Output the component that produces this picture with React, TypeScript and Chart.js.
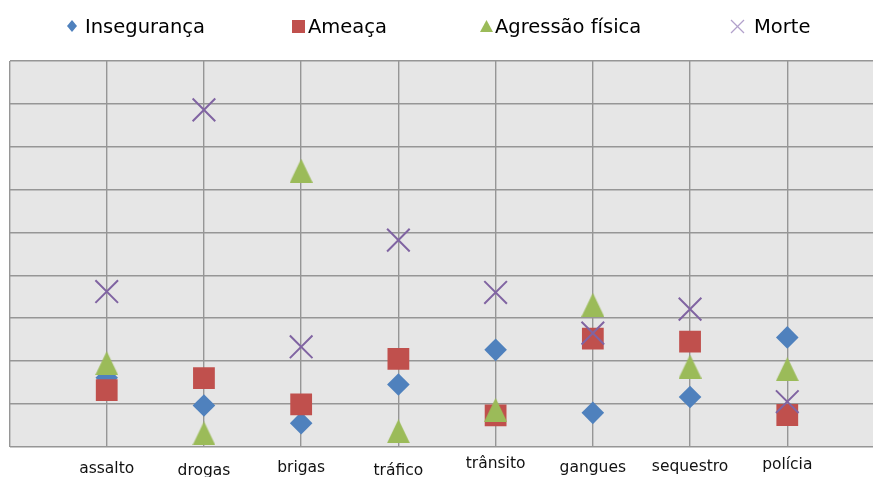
import React, { useEffect, useRef } from "react";
import { Chart, registerables } from "chart.js";

Chart.register(...registerables);

// ---- data ----
const categories = ["assalto", "drogas", "brigas", "tráfico", "trânsito", "gangues", "sequestro", "polícia"];
// vertical level (in axis units) at which each category label sits, as in the original
const labelLevels = [-0.62, -0.66, -0.59, -0.66, -0.5, -0.58, -0.57, -0.51];
const seriesNames = ["Insegurança", "Ameaça", "Agressão física", "Morte"];
const inseguranca = [1.61, 0.96, 0.55, 1.45, 2.26, 0.79, 1.16, 2.55];
const ameaca = [1.32, 1.6, 0.99, 2.05, 0.73, 2.52, 2.45, 0.74];
const agressao = [1.95, 0.31, 6.44, 0.36, 0.86, 3.31, 1.87, 1.81];
const morte = [3.62, 7.86, 2.33, 4.82, 3.6, 2.65, 3.21, 1.05];
const yMin = 0;
const yMax = 9;
const xMin = 0;
const xMax = 9;

const colors = ["#4F81BD", "#C0504D", "#9BBB59", "#8064A2"];
const FONT = '"DejaVu Sans", "Liberation Sans", Arial, sans-serif';

const CANVAS_W = 900;
const CANVAS_H = 477;

function toPoints(values: number[]) {
  return values.map((v, i) => ({ x: i + 1, y: v }));
}

function makeTriangle(w: number, h: number, color: string) {
  const c = document.createElement("canvas");
  c.width = w;
  c.height = h;
  const ctx = c.getContext("2d")!;
  ctx.fillStyle = color;
  ctx.beginPath();
  ctx.moveTo(w / 2, 0);
  ctx.lineTo(w, h);
  ctx.lineTo(0, h);
  ctx.closePath();
  ctx.fill();
  return c;
}

const plotBg = {
  id: "plotBg",
  beforeDraw(chart: any) {
    const { ctx, chartArea } = chart;
    const { left, top, right, bottom } = chartArea;
    ctx.save();
    ctx.fillStyle = "#E6E6E6";
    ctx.fillRect(left, top, right - left, bottom - top);
    ctx.restore();
  },
};

const catLabels = {
  id: "catLabels",
  afterDraw(chart: any) {
    const { ctx } = chart;
    const xs = chart.scales.x;
    const ys = chart.scales.y;
    ctx.save();
    ctx.font = `15.5px ${FONT}`;
    ctx.fillStyle = "#111";
    ctx.textAlign = "center";
    ctx.textBaseline = "alphabetic";
    categories.forEach((c, i) => {
      ctx.fillText(c, xs.getPixelForValue(i + 1), ys.getPixelForValue(labelLevels[i]));
    });
    ctx.restore();
  },
};

function LegendMarker({ kind, color }: { kind: number; color: string }) {
  if (kind === 0)
    return (
      <svg width={10} height={12} style={{ display: "block" }}>
        <polygon points="5,0 10,6 5,12 0,6" fill={color} />
      </svg>
    );
  if (kind === 1)
    return (
      <svg width={13} height={13} style={{ display: "block" }}>
        <rect x={0} y={0} width={13} height={13} fill={color} />
      </svg>
    );
  if (kind === 2)
    return (
      <svg width={13} height={12} style={{ display: "block" }}>
        <polygon points="6.5,0 13,12 0,12" fill={color} />
      </svg>
    );
  return (
    <svg width={15} height={15} style={{ display: "block" }}>
      <line x1={1} y1={1} x2={14} y2={14} stroke="#B2A1CB" strokeWidth={1.3} />
      <line x1={14} y1={1} x2={1} y2={14} stroke="#B2A1CB" strokeWidth={1.3} />
    </svg>
  );
}

const legendLefts = [67, 292, 480, 730];
const legendGaps = [8, 3, 2, 9];

export default function App() {
  const canvasRef = useRef<HTMLCanvasElement>(null);

  useEffect(() => {
    const canvas = canvasRef.current;
    if (!canvas) return;
    const tri = makeTriangle(23, 24, colors[2]);
    const chart = new Chart(canvas, {
      type: "scatter",
      data: {
        datasets: [
          {
            label: seriesNames[0],
            data: toPoints(inseguranca),
            pointStyle: "rectRot",
            pointRadius: 11.3,
            pointBackgroundColor: colors[0],
            pointBorderWidth: 0,
            order: 4,
          },
          {
            label: seriesNames[1],
            data: toPoints(ameaca),
            pointStyle: "rect",
            pointRadius: 15.4,
            pointBackgroundColor: colors[1],
            pointBorderWidth: 0,
            order: 3,
          },
          {
            label: seriesNames[2],
            data: toPoints(agressao),
            pointStyle: tri as any,
            pointRadius: 12,
            pointBackgroundColor: colors[2],
            pointBorderWidth: 0,
            order: 2,
          },
          {
            label: seriesNames[3],
            data: toPoints(morte),
            pointStyle: "crossRot",
            pointRadius: 16,
            pointBorderColor: colors[3],
            pointBorderWidth: 2,
            order: 1,
          },
        ] as any,
      },
      options: {
        animation: false,
        responsive: false,
        maintainAspectRatio: false,
        devicePixelRatio: 1,
        layout: { autoPadding: false, padding: { left: 9.5, right: 15.5, top: 61, bottom: 30.3 } },
        plugins: {
          legend: { display: false },
          tooltip: { enabled: false },
        },
        scales: {
          x: {
            type: "linear",
            min: xMin,
            max: xMax,
            ticks: { display: false, stepSize: 1 },
            grid: { color: "#969696", lineWidth: 1.4, drawTicks: false },
            border: { display: false },
          },
          y: {
            type: "linear",
            min: yMin,
            max: yMax,
            ticks: { display: false, stepSize: 1 },
            grid: { color: "#969696", lineWidth: 1.4, drawTicks: false },
            border: { display: false },
          },
        },
      },
      plugins: [plotBg, catLabels],
    });
    return () => chart.destroy();
  }, []);

  return (
    <div
      style={{
        position: "fixed",
        left: 0,
        top: 0,
        width: 873,
        height: 477,
        overflow: "hidden",
        background: "#fff",
      }}
    >
      <canvas
        ref={canvasRef}
        width={CANVAS_W}
        height={CANVAS_H}
        style={{ position: "absolute", left: 0, top: 0, display: "block", width: CANVAS_W, height: CANVAS_H }}
      />
      {seriesNames.map((name, i) => (
        <div
          key={name}
          style={{
            position: "absolute",
            left: legendLefts[i],
            top: 16.6,
            display: "flex",
            alignItems: "center",
            height: 19,
            font: `19.5px ${FONT}`,
            lineHeight: "19px",
            color: "#000",
            whiteSpace: "nowrap",
          }}
        >
          <LegendMarker kind={i} color={colors[i]} />
          <span style={{ marginLeft: legendGaps[i] }}>{name}</span>
        </div>
      ))}
    </div>
  );
}
